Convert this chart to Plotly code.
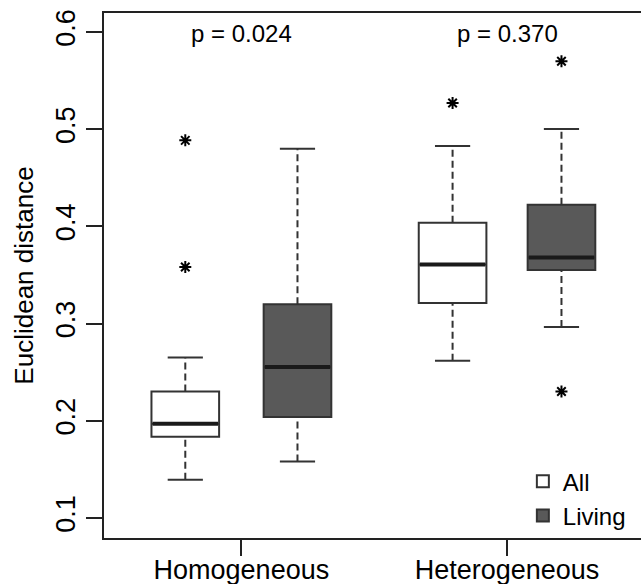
import plotly.graph_objects as go

groups = ["Homogeneous", "Heterogeneous"]
series = ["All", "Living"]
p_values = ["p = 0.024", "p = 0.370"]

# box positions on the numeric x axis (All, Living per group)
pos_all = [1.0, 3.43]
pos_living = [2.02, 4.42]

# five-number summaries
all_lower = [0.1394, 0.2618]
all_q1 = [0.1836, 0.3212]
all_median = [0.197, 0.3609]
all_q3 = [0.2302, 0.4038]
all_upper = [0.2652, 0.4827]
all_out_x = [1.0, 1.0, 3.43]
all_out_y = [0.4885, 0.3582, 0.527]

liv_lower = [0.1582, 0.2965]
liv_q1 = [0.2039, 0.3551]
liv_median = [0.2553, 0.3681]
liv_q3 = [0.320, 0.4223]
liv_upper = [0.480, 0.5002]
liv_out_x = [4.42, 4.42]
liv_out_y = [0.5698, 0.2302]

y_ticks = [0.1, 0.2, 0.3, 0.4, 0.5, 0.6]

BOX_W = 0.615
CAP_W = 0.32
FONT = "Liberation Sans, Arial, sans-serif"
EDGE = "#333333"

fig = go.Figure()

def add_series(name, pos, lo, q1, med, q3, hi, fill, ox, oy):
    fig.add_trace(go.Box(
        name=name, x=pos, q1=q1, median=med, q3=q3,
        lowerfence=q1, upperfence=q3, width=BOX_W,
        fillcolor=fill, line=dict(color=EDGE, width=2),
        whiskerwidth=0, boxpoints=False, showlegend=True, hoverinfo="skip"))
    # dashed whiskers
    wx, wy = [], []
    for p, a, b, c, d in zip(pos, lo, q1, q3, hi):
        wx += [p, p, None, p, p, None]
        wy += [a, b, None, c, d, None]
    fig.add_trace(go.Scatter(x=wx, y=wy, mode="lines", showlegend=False,
                             line=dict(color=EDGE, width=2, dash="7px,4px"),
                             hoverinfo="skip"))
    # caps
    cx, cy = [], []
    for p, a, d in zip(pos, lo, hi):
        cx += [p - CAP_W / 2, p + CAP_W / 2, None, p - CAP_W / 2, p + CAP_W / 2, None]
        cy += [a, a, None, d, d, None]
    fig.add_trace(go.Scatter(x=cx, y=cy, mode="lines", showlegend=False,
                             line=dict(color=EDGE, width=2), hoverinfo="skip"))
    # thick median
    mx, my = [], []
    for p, m in zip(pos, med):
        mx += [p - BOX_W / 2 + 0.01, p + BOX_W / 2 - 0.01, None]
        my += [m, m, None]
    fig.add_trace(go.Scatter(x=mx, y=my, mode="lines", showlegend=False,
                             line=dict(color="#1a1a1a", width=4), hoverinfo="skip"))
    # outliers
    fig.add_trace(go.Scatter(x=ox, y=oy, mode="markers", showlegend=False,
                             marker=dict(symbol="asterisk-open", size=10, color="black",
                                         line=dict(color="black", width=2)),
                             hoverinfo="skip"))

add_series(series[0], pos_all, all_lower, all_q1, all_median, all_q3, all_upper,
           "white", all_out_x, all_out_y)
add_series(series[1], pos_living, liv_lower, liv_q1, liv_median, liv_q3, liv_upper,
           "#595959", liv_out_x, liv_out_y)

group_centers = [(a + b) / 2 for a, b in zip(pos_all, pos_living)]

for gx, txt in zip(group_centers, p_values):
    fig.add_annotation(x=gx, y=0.598, text=txt, showarrow=False,
                       xref="x", yref="y", yanchor="middle",
                       font=dict(size=24, color="black", family=FONT))

fig.update_layout(
    width=641, height=584,
    margin=dict(l=104, r=0, t=13, b=46),
    paper_bgcolor="white", plot_bgcolor="white",
    font=dict(family=FONT, color="black"),
    boxmode="overlay",
    legend=dict(x=0.78, y=0.15, xanchor="left", yanchor="top",
                bgcolor="rgba(0,0,0,0)", font=dict(size=24, family=FONT),
                itemclick=False, tracegroupgap=0),
    xaxis=dict(range=[0.261, 5.143], tickmode="array", tickvals=group_centers,
               ticktext=groups, ticks="outside", ticklen=16, tickwidth=1.5,
               tickcolor="#222", showline=True, mirror=True, linecolor="#222",
               linewidth=2, showgrid=False, zeroline=False, automargin=False,
               ticklabelstandoff=-9,
               tickfont=dict(size=27, family=FONT)),
    yaxis=dict(range=[0.0795, 0.6195], tickmode="array", tickvals=y_ticks,
               ticktext=[f"{v:.1f}" for v in y_ticks], ticks="outside",
               ticklen=16, tickwidth=1.5, tickcolor="#222", showline=True,
               linecolor="#222", linewidth=2, showgrid=False, zeroline=False,
               automargin=False, tickangle=-90, tickfont=dict(size=27, family=FONT),
               title=dict(text="Euclidean distance", font=dict(size=26, family=FONT),
                          standoff=10)),
)

fig.write_html("out.html")
